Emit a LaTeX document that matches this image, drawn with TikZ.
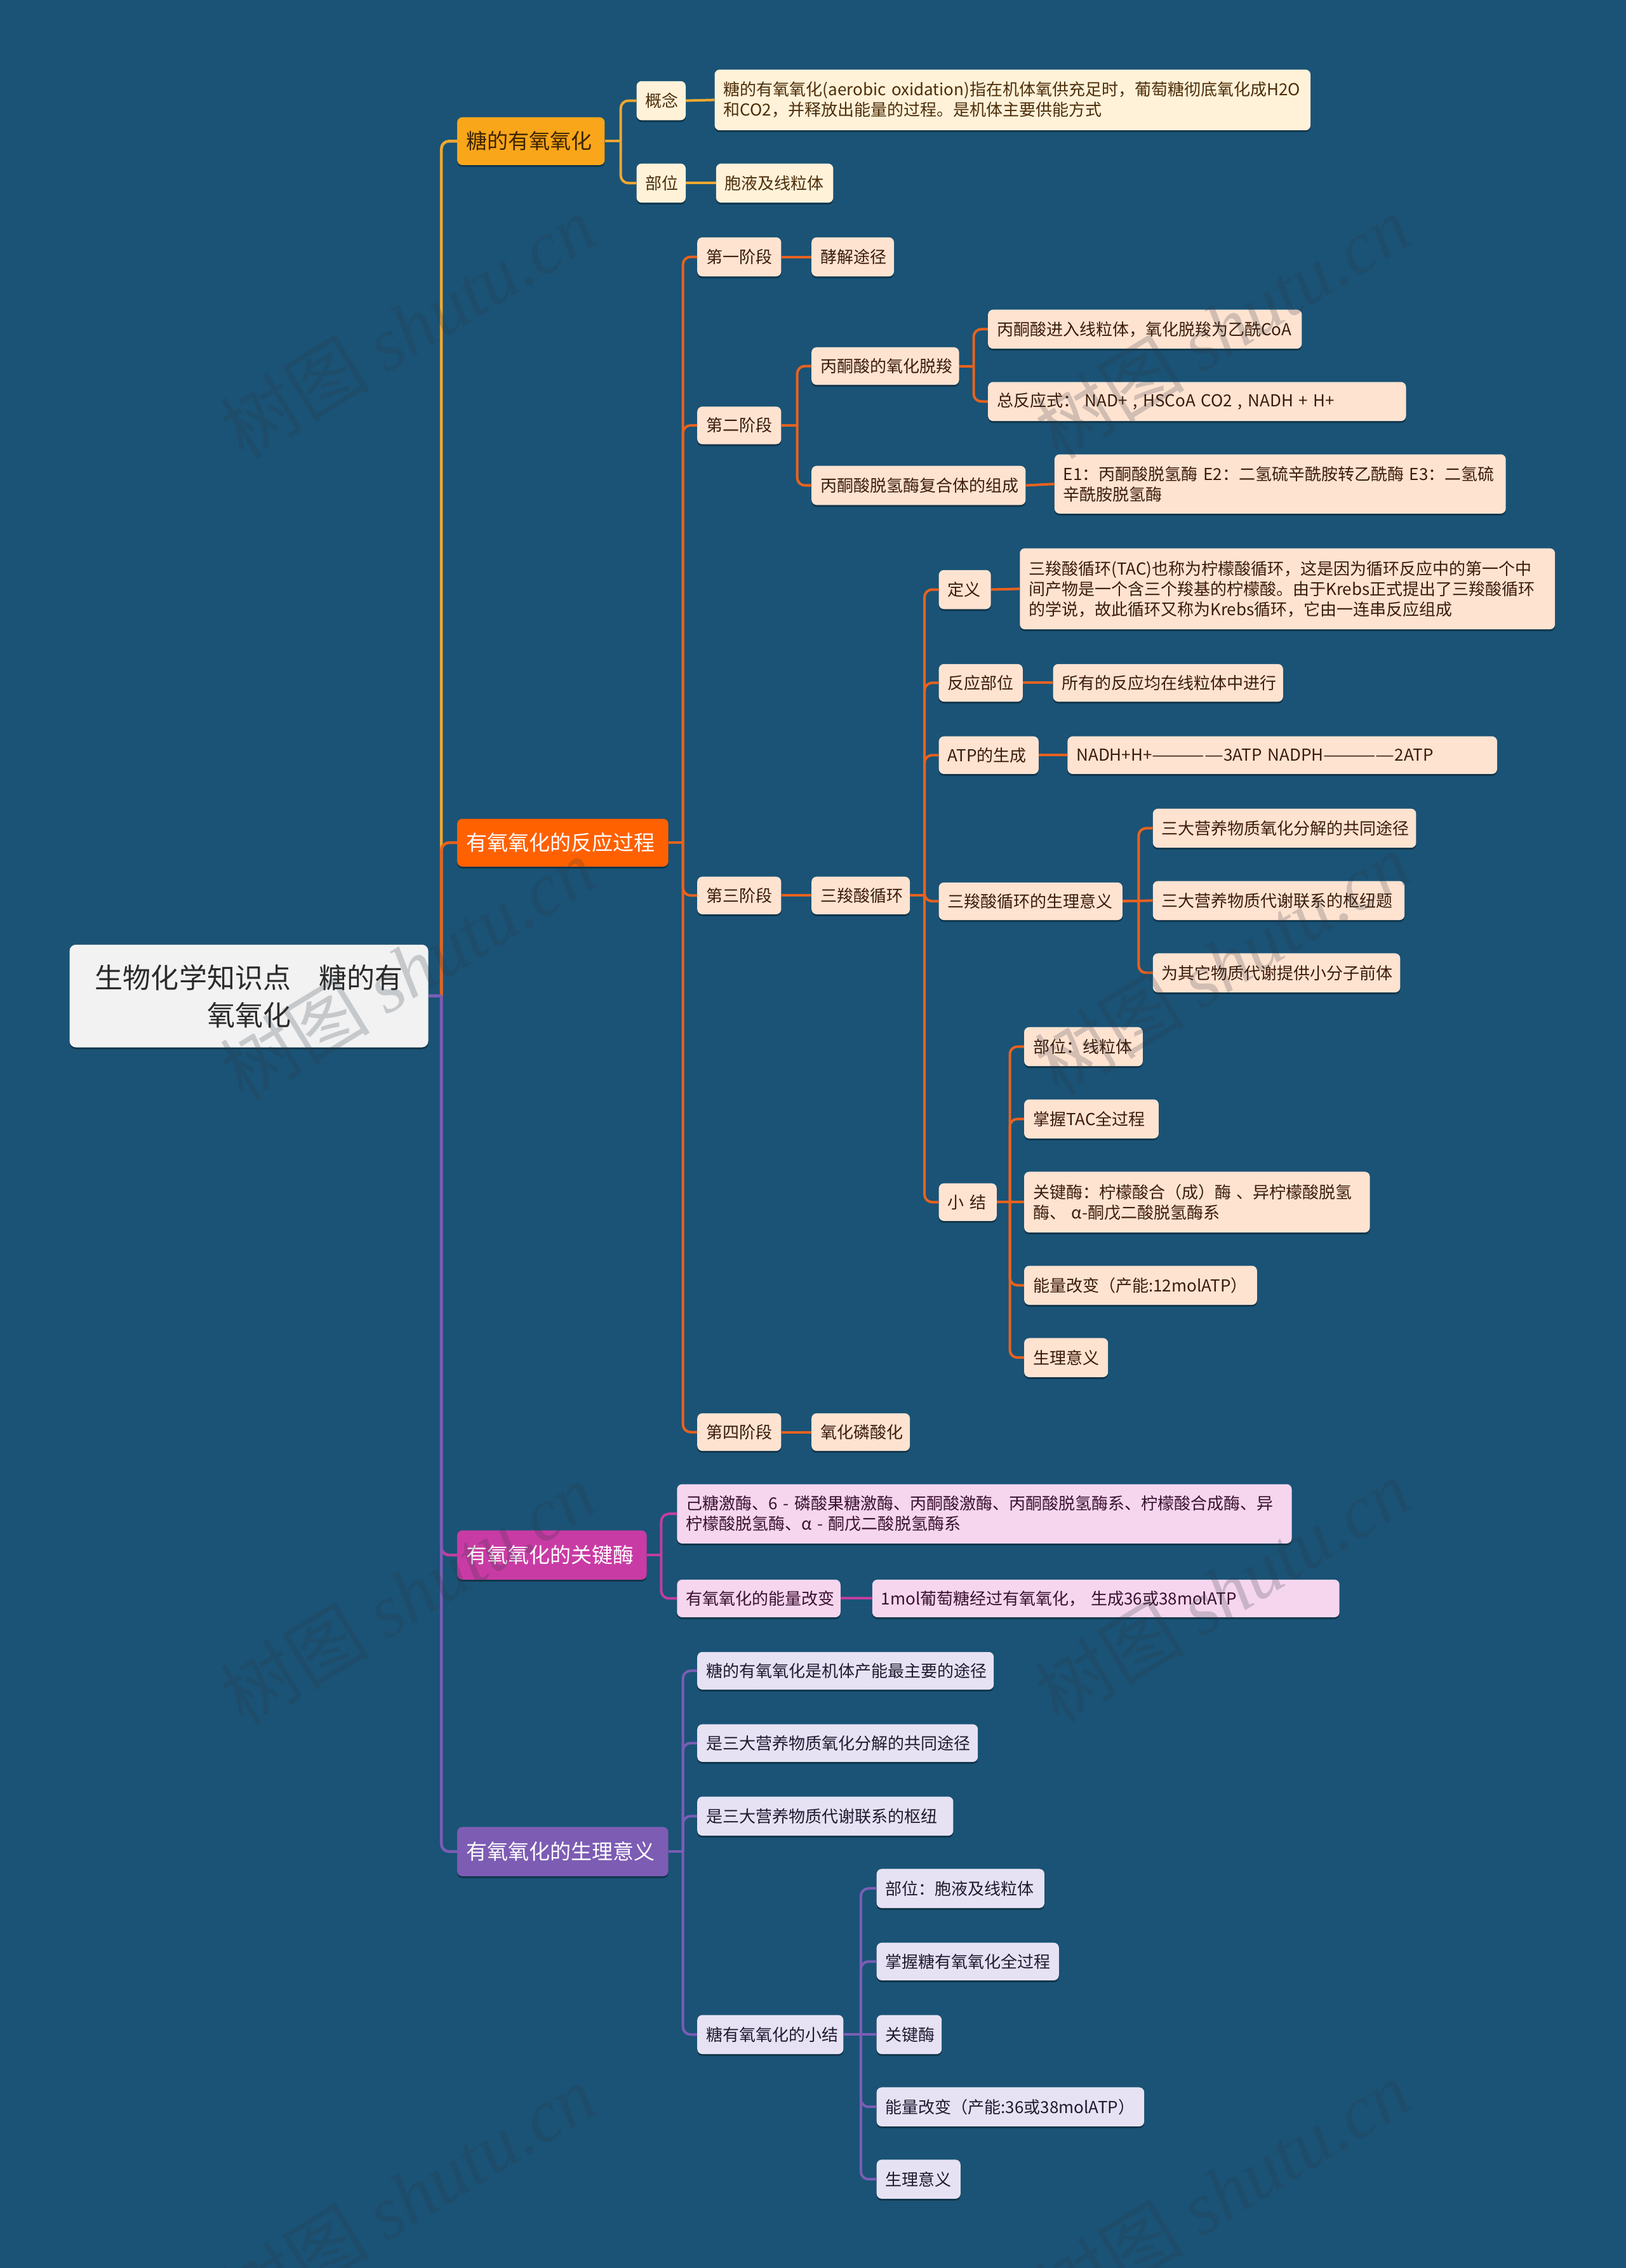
\documentclass[tikz,border=0pt]{standalone}
\usepackage{fontspec}
\usepackage{graphicx}
\setmainfont{Noto Sans CJK SC}
\newfontfamily\wmlat{Liberation Serif}
\usetikzlibrary{shadows}
\definecolor{bg}{HTML}{1A5376}
\definecolor{ambF}{HTML}{F9A61A}
\definecolor{ambC}{HTML}{FFF2D9}
\definecolor{ambL}{HTML}{F0A830}
\definecolor{ambT}{HTML}{4D2E0A}
\definecolor{ambH}{HTML}{3D2400}
\definecolor{orF}{HTML}{FF6100}
\definecolor{orC}{HTML}{FFE3D1}
\definecolor{orL}{HTML}{E8621E}
\definecolor{orT}{HTML}{3C1C0C}
\definecolor{mgF}{HTML}{C93BA4}
\definecolor{mgC}{HTML}{F5D6EE}
\definecolor{mgL}{HTML}{C23E9E}
\definecolor{mgT}{HTML}{3A1030}
\definecolor{puF}{HTML}{7D5CB4}
\definecolor{puC}{HTML}{E7E2F3}
\definecolor{puL}{HTML}{7A5DB5}
\definecolor{puT}{HTML}{1F1A30}
\definecolor{rootF}{HTML}{F2F2F2}
\definecolor{rootT}{HTML}{2B2B2B}
\definecolor{wmC}{HTML}{2E3A44}
\newcommand\bx[7]{%
  \pgfmathsetmacro\bxw{(#4-#3)*2.2776}%
  \pgfmathsetmacro\bxh{(#6-#5)*2.2776}%
  \pgfmathsetmacro\bxt{\bxw-28}%
  \node[#2, anchor=north west, minimum width=\bxw pt, minimum height=\bxh pt, text width=\bxt pt] (#1) at (#3,#5) {#7};}
\newcommand\lk[4]{%
  \draw[#1] (#2.east) -- ++(#4,0) coordinate (J);
  \draw[#1, rounded corners=12pt] (J) |- (#3.west);}
\newcommand\st[3]{\draw[#1] (#2.east) -- (#3.west);}
\newcommand\longdash{\scalebox{1.29}[1]{————}}
\tikzset{
  box/.style={rectangle, rounded corners=8pt, inner xsep=14pt, inner ysep=0pt, align=left,
    font=\fontsize{26}{32}\selectfont,
    drop shadow={shadow xshift=0pt, shadow yshift=-3pt, opacity=0.35, fill=black}},
  lvl/.style={box, font=\fontsize{33}{40}\selectfont},
  amb/.style={box, fill=ambC, text=ambT},
  orn/.style={box, fill=orC, text=orT},
  mag/.style={box, fill=mgC, text=mgT},
  pur/.style={box, fill=puC, text=puT},
  cA/.style={draw=ambL, line width=4pt},
  cO/.style={draw=orL, line width=4pt},
  cM/.style={draw=mgL, line width=4pt},
  cP/.style={draw=puL, line width=4pt},
  wm/.style={text=wmC, opacity=0.22, font=\fontsize{118}{118}\selectfont, rotate=31.5, inner sep=0pt}
}
\begin{document}
\begin{tikzpicture}[x=2.2776pt, y=-2.2776pt]
\fill[bg] (0,0) rectangle (1124,1568);
\useasboundingbox (0,0) rectangle (1124,1568);
% root
\bx{root}{box, fill=rootF, text=rootT, align=center, rounded corners=10pt, font=\fontsize{44}{59}\selectfont}{48}{296}{653}{724}{生物化学知识点　糖的有\\氧氧化}
% level 1
\bx{b1}{lvl, fill=ambF, text=ambH}{316}{418}{81}{114}{糖的有氧氧化}
\bx{b2}{lvl, fill=orF, text=white}{316}{462}{566}{599}{有氧氧化的反应过程}
\bx{b3}{lvl, fill=mgF, text=white}{316}{447}{1058}{1092}{有氧氧化的关键酶}
\bx{b4}{lvl, fill=puF, text=white}{316}{462}{1263}{1297}{有氧氧化的生理意义}
% branch 1
\bx{a1}{amb}{440}{474}{56}{83}{概念}
\bx{a1t}{amb}{494}{906}{48}{90}{糖的有氧氧化(aerobic~oxidation)指在机体氧供充足时，葡萄糖彻底氧化成H2O\\和CO2，并释放出能量的过程。是机体主要供能方式}
\bx{a2}{amb}{440}{474}{113}{140}{部位}
\bx{a2t}{amb}{495}{576}{113}{140}{胞液及线粒体}
% branch 2
\bx{s1}{orn}{482}{540}{164}{191}{第一阶段}
\bx{s1t}{orn}{561}{618}{164}{191}{酵解途径}
\bx{s2}{orn}{482}{540}{281}{307}{第二阶段}
\bx{p1}{orn}{561}{663}{240}{266}{丙酮酸的氧化脱羧}
\bx{p1a}{orn}{683}{900}{214}{241}{丙酮酸进入线粒体，氧化脱羧为乙酰CoA}
\bx{p1b}{orn}{683}{972}{264}{291}{总反应式：~NAD+~,~HSCoA~CO2~,~NADH~+~H+}
\bx{p2}{orn}{561}{709}{322}{349}{丙酮酸脱氢酶复合体的组成}
\bx{p2t}{orn}{729}{1041}{314}{355}{E1：丙酮酸脱氢酶~E2：二氢硫辛酰胺转乙酰酶~E3：二氢硫\\辛酰胺脱氢酶}
\bx{s3}{orn}{482}{540}{606}{632}{第三阶段}
\bx{tca}{orn}{561}{629}{606}{632}{三羧酸循环}
\bx{d1}{orn}{649}{685}{394}{421}{定义}
\bx{d1t}{orn}{705}{1075}{379}{435}{三羧酸循环(TAC)也称为柠檬酸循环，这是因为循环反应中的第一个中\\间产物是一个含三个羧基的柠檬酸。由于Krebs正式提出了三羧酸循环\\的学说，故此循环又称为Krebs循环，它由一连串反应组成}
\bx{d2}{orn}{649}{707}{459}{485}{反应部位}
\bx{d2t}{orn}{728}{887}{459}{485}{所有的反应均在线粒体中进行}
\bx{d3}{orn}{649}{718}{509}{535}{ATP的生成}
\bx{d3t}{orn}{738}{1035}{509}{535}{NADH+H+\longdash3ATP~NADPH\longdash2ATP}
\bx{d4}{orn}{649}{776}{610}{636}{三羧酸循环的生理意义}
\bx{d4a}{orn}{797}{979}{559}{586}{三大营养物质氧化分解的共同途径}
\bx{d4b}{orn}{797}{971}{609}{636}{三大营养物质代谢联系的枢纽题}
\bx{d4c}{orn}{797}{968}{659}{686}{为其它物质代谢提供小分子前体}
\bx{d5}{orn}{649}{689}{818}{844}{小~结}
\bx{d5a}{orn}{708}{790}{710}{737}{部位：线粒体}
\bx{d5b}{orn}{708}{801}{760}{787}{掌握TAC全过程}
\bx{d5c}{orn}{708}{947}{810}{852}{关键酶：柠檬酸合（成）酶~、异柠檬酸脱氢\\酶、~α-酮戊二酸脱氢酶系}
\bx{d5d}{orn}{708}{869}{875}{902}{能量改变（产能:12molATP）}
\bx{d5e}{orn}{708}{766}{925}{952}{生理意义}
\bx{s4}{orn}{482}{540}{977}{1003}{第四阶段}
\bx{s4t}{orn}{561}{629}{977}{1003}{氧化磷酸化}
% branch 3
\bx{k1}{mag}{468}{893}{1026}{1067}{己糖激酶、6~-~磷酸果糖激酶、丙酮酸激酶、丙酮酸脱氢酶系、柠檬酸合成酶、异\\柠檬酸脱氢酶、α~-~酮戊二酸脱氢酶系}
\bx{k2}{mag}{468}{581}{1092}{1118}{有氧氧化的能量改变}
\bx{k2t}{mag}{603}{926}{1092}{1118}{1mol葡萄糖经过有氧氧化，~生成36或38molATP}
% branch 4
\bx{m1}{pur}{482}{687}{1142}{1168}{糖的有氧氧化是机体产能最主要的途径}
\bx{m2}{pur}{482}{676}{1192}{1218}{是三大营养物质氧化分解的共同途径}
\bx{m3}{pur}{482}{659}{1242}{1269}{是三大营养物质代谢联系的枢纽}
\bx{m4}{pur}{482}{583}{1393}{1420}{糖有氧氧化的小结}
\bx{m4a}{pur}{606}{722}{1292}{1319}{部位：胞液及线粒体}
\bx{m4b}{pur}{606}{732}{1343}{1369}{掌握糖有氧氧化全过程}
\bx{m4c}{pur}{606}{651}{1393}{1420}{关键酶}
\bx{m4d}{pur}{606}{791}{1443}{1470}{能量改变（产能:36或38molATP）}
\bx{m4e}{pur}{606}{664}{1493}{1520}{生理意义}
% connectors: root
\lk{cA, line width=4.5pt}{root}{b1}{9}
\lk{cO, line width=4.5pt}{root}{b2}{9}
\lk{cM, line width=4.5pt}{root}{b3}{9}
\lk{cP, line width=4.5pt}{root}{b4}{9}
% branch 1
\lk{cA}{b1}{a1}{11}
\lk{cA}{b1}{a2}{11}
\st{cA}{a1}{a1t}
\st{cA}{a2}{a2t}
% branch 2
\lk{cO}{b2}{s1}{10}
\lk{cO}{b2}{s2}{10}
\lk{cO}{b2}{s3}{10}
\lk{cO}{b2}{s4}{10}
\st{cO}{s1}{s1t}
\lk{cO}{s2}{p1}{11}
\lk{cO}{s2}{p2}{11}
\lk{cO}{p1}{p1a}{10}
\lk{cO}{p1}{p1b}{10}
\st{cO}{p2}{p2t}
\st{cO}{s3}{tca}
\lk{cO}{tca}{d1}{10}
\lk{cO}{tca}{d2}{10}
\lk{cO}{tca}{d3}{10}
\lk{cO}{tca}{d4}{10}
\lk{cO}{tca}{d5}{10}
\st{cO}{d1}{d1t}
\st{cO}{d2}{d2t}
\st{cO}{d3}{d3t}
\lk{cO}{d4}{d4a}{11}
\st{cO}{d4}{d4b}
\lk{cO}{d4}{d4c}{11}
\lk{cO}{d5}{d5a}{9}
\lk{cO}{d5}{d5b}{9}
\st{cO}{d5}{d5c}
\lk{cO}{d5}{d5d}{9}
\lk{cO}{d5}{d5e}{9}
\st{cO}{s4}{s4t}
% branch 3
\lk{cM}{b3}{k1}{10}
\lk{cM}{b3}{k2}{10}
\st{cM}{k2}{k2t}
% branch 4
\lk{cP}{b4}{m1}{10}
\lk{cP}{b4}{m2}{10}
\lk{cP}{b4}{m3}{10}
\lk{cP}{b4}{m4}{10}
\lk{cP}{m4}{m4a}{12}
\lk{cP}{m4}{m4b}{12}
\st{cP}{m4}{m4c}
\lk{cP}{m4}{m4d}{12}
\lk{cP}{m4}{m4e}{12}
% watermarks
\foreach \wx/\wy [count=\wi] in {282/226, 845/226, 282/670, 845/666, 282/1102, 845/1100, 282/1518, 845/1515}{
  \node[wm] (wm\wi) at (\wx,\wy) {树图~{\wmlat\itshape shutu.cn}};
}
\end{tikzpicture}
\end{document}
